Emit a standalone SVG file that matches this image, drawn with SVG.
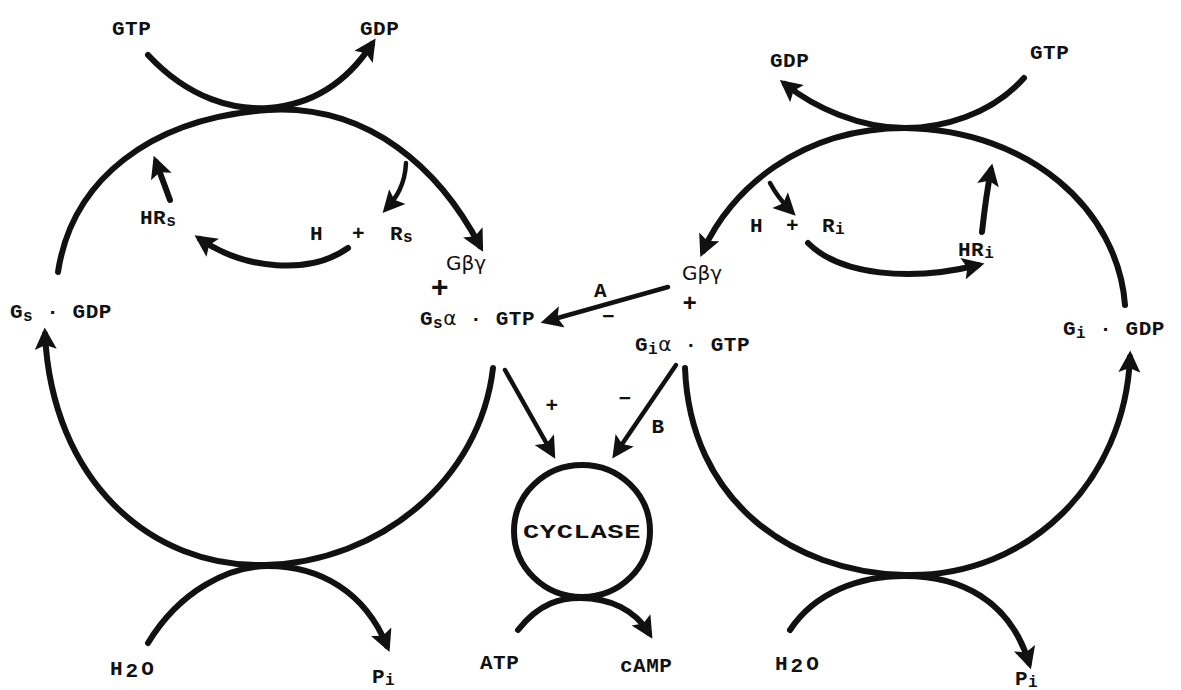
<svg xmlns="http://www.w3.org/2000/svg" width="1181" height="690" viewBox="0 0 1181 690">
<style>
.t{font-family:"Liberation Mono","DejaVu Sans Mono",monospace;font-weight:bold;font-size:21px;fill:#111;letter-spacing:0.5px}
.g{font-family:"DejaVu Sans","Liberation Sans",sans-serif;font-size:20px;fill:#111;font-weight:normal;letter-spacing:0}
.sub{font-size:16px}
.c{fill:none;stroke:#111;stroke-width:6;stroke-linecap:round}
.thin{stroke-width:4.5}
</style>
<defs>
<marker id="ah" viewBox="0 0 10 10" refX="7" refY="5" markerWidth="24" markerHeight="22" markerUnits="userSpaceOnUse" orient="auto">
<path d="M0,0 L10,5 L0,10 L2,5 z" fill="#111"/>
</marker>
</defs>
<rect width="1181" height="690" fill="#fff"/>
<g id="connectors">
<path class="c" d="M148,55 C190,100 235,110 268,108 C310,105 345,85 372,44" marker-end="url(#ah)"/>
<path class="c" d="M58,272 C72,180 150,118 268,110 C370,104 440,170 480,246" marker-end="url(#ah)"/>
<path class="c" d="M170,200 L156,162" marker-end="url(#ah)"/>
<path class="c thin" d="M406,163 C405,185 396,198 387,208" marker-end="url(#ah)"/>
<path class="c" d="M348,248 C310,275 245,270 200,239" marker-end="url(#ah)"/>
<path class="c" d="M493,368 C480,480 380,562 265,565 C150,568 52,480 45,334" marker-end="url(#ah)"/>
<path class="c" d="M148,643 C180,590 230,566 268,566 C320,566 365,592 387,646" marker-end="url(#ah)"/>
<path class="c thin" d="M668,287 L547,321" marker-end="url(#ah)"/>
<path class="c thin" d="M505,370 L552,453" marker-end="url(#ah)"/>
<path class="c thin" d="M676,365 L616,453" marker-end="url(#ah)"/>
<path class="c" d="M518,630 C540,602 562,598 580,598 C610,598 635,610 649,633" marker-end="url(#ah)"/>
<path class="c" d="M685,368 C690,500 790,572 905,575 C1030,578 1125,480 1130,357" marker-end="url(#ah)"/>
<path class="c" d="M790,630 C815,592 860,576 905,576 C960,576 1010,600 1029,663" marker-end="url(#ah)"/>
<path class="c" d="M1125,305 C1118,210 1030,130 905,128 C800,128 730,190 703,251" marker-end="url(#ah)"/>
<path class="c" d="M1024,78 C990,116 940,128 905,128 C860,128 815,108 785,84" marker-end="url(#ah)"/>
<path class="c thin" d="M770,183 C778,198 785,205 791,211" marker-end="url(#ah)"/>
<path class="c" d="M808,243 C840,275 910,282 978,265" marker-end="url(#ah)"/>
<path class="c" d="M982,232 C985,205 987,190 991,170" marker-end="url(#ah)"/>
</g>
<g id="cyclase">
<ellipse cx="582" cy="531" rx="68" ry="66" fill="none" stroke="#111" stroke-width="6"/>
<text class="t" x="582" y="538" text-anchor="middle" textLength="118" lengthAdjust="spacingAndGlyphs">CYCLASE</text>
</g>
<g id="gtp-left"><text class="t" x="112" y="35">GTP</text></g>
<g id="gdp-left"><text class="t" x="360" y="35">GDP</text></g>
<g id="gdp-right"><text class="t" x="770" y="67">GDP</text></g>
<g id="gtp-right"><text class="t" x="1030" y="59">GTP</text></g>
<g id="hrs"><text class="t" x="140" y="224">HR<tspan class="sub" dy="2">s</tspan></text></g>
<g id="h-rs"><text class="t" x="310" y="240">H<tspan x="352">+</tspan><tspan x="390">R</tspan><tspan class="sub" dy="2">s</tspan></text></g>
<g id="gs-gdp"><text class="t" x="10" y="318">G<tspan class="sub" dy="3">s</tspan><tspan dy="-3"> · GDP</tspan></text></g>
<g id="gbg-left"><text class="g" x="446" y="270">Gβγ</text></g>
<g id="plus-left"><text class="t" x="440" y="297" text-anchor="middle" style="font-size:30px">+</text></g>
<g id="gsa-gtp"><text class="t" x="420" y="325">G<tspan class="sub" dy="3">s</tspan><tspan class="g" dy="-3">α</tspan> · GTP</text></g>
<g id="label-a"><text class="t" x="594" y="297">A</text><text class="t" x="602" y="323">−</text></g>
<g id="gbg-right"><text class="g" x="682" y="280">Gβγ</text></g>
<g id="plus-right"><text class="t" x="690" y="311" text-anchor="middle" style="font-size:24px">+</text></g>
<g id="gia-gtp"><text class="t" x="635" y="351">G<tspan class="sub" dy="3">i</tspan><tspan class="g" dy="-3">α</tspan> · GTP</text></g>
<g id="label-plus"><text class="t" x="552" y="412" text-anchor="middle">+</text></g>
<g id="label-b"><text class="t" x="625" y="405" text-anchor="middle">−</text><text class="t" x="658" y="433" text-anchor="middle">B</text></g>
<g id="atp"><text class="t" x="480" y="669">ATP</text></g>
<g id="camp"><text class="t" x="620" y="672">cAMP</text></g>
<g id="h2o-left"><text class="t" x="110" y="675" style="letter-spacing:3px">H<tspan dy="2">2</tspan><tspan dy="-2">O</tspan></text></g>
<g id="pi-left"><text class="t" x="372" y="683">P<tspan class="sub" dy="2">i</tspan></text></g>
<g id="h2o-right"><text class="t" x="775" y="670" style="letter-spacing:3px">H<tspan dy="2">2</tspan><tspan dy="-2">O</tspan></text></g>
<g id="pi-right"><text class="t" x="1015" y="685">P<tspan class="sub" dy="2">i</tspan></text></g>
<g id="h-ri"><text class="t" x="750" y="232">H<tspan x="786">+</tspan><tspan x="822">R</tspan><tspan class="sub" dy="2">i</tspan></text></g>
<g id="hri"><text class="t" x="958" y="256">HR<tspan class="sub" dy="2">i</tspan></text></g>
<g id="gi-gdp"><text class="t" x="1063" y="335">G<tspan class="sub" dy="3">i</tspan><tspan dy="-3"> · GDP</tspan></text></g>
</svg>
